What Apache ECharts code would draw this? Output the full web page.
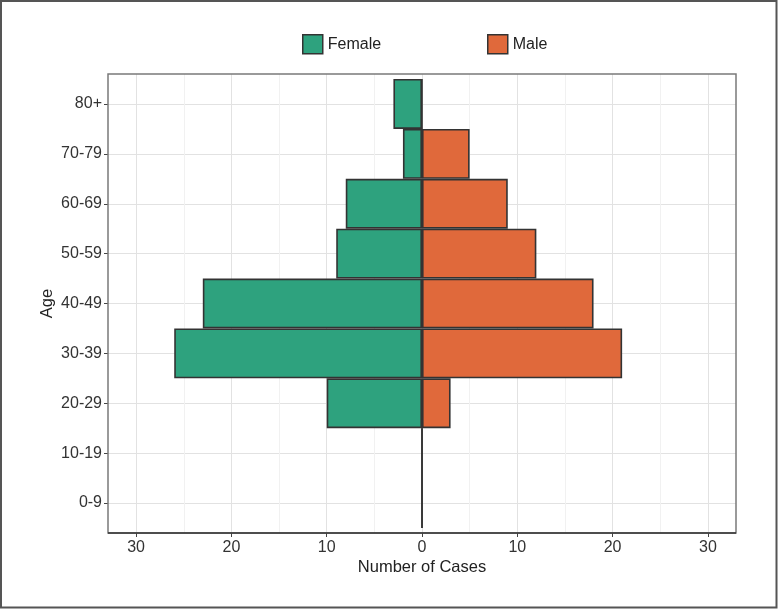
<!DOCTYPE html>
<html>
<head>
<meta charset="utf-8">
<script src="https://cdn.jsdelivr.net/npm/echarts@6/dist/echarts.min.js"></script>
<style>
html, body { margin: 0; padding: 0; background: #ffffff; }
#chart { width: 778px; height: 610px; }
</style>
</head>
<body>
<div id="chart"></div>
<script>
const ageGroups = ['0-9', '10-19', '20-29', '30-39', '40-49', '50-59', '60-69', '70-79', '80+'];
const femaleCases = [0, 0, 10, 26, 23, 9, 8, 2, 3];
const maleCases = [0, 0, 3, 21, 18, 12, 9, 5, 0];
const xTickValues = [-30, -20, -10, 0, 10, 20, 30];

const FONT = '"Liberation Sans", Arial, Helvetica, sans-serif';
const GREEN = '#2ea27e';
const ORANGE = '#e0693b';
const EDGE = '#333333';

const chart = echarts.init(document.getElementById('chart'), null, { renderer: 'canvas' });

const option = {
  animation: false,
  backgroundColor: '#ffffff',
  textStyle: { fontFamily: FONT },
  legend: [
    {
      left: 302, top: 34, padding: 0, itemWidth: 20, itemHeight: 19, icon: 'rect',
      data: ['Female'],
      itemStyle: { borderColor: EDGE, borderWidth: 1.5 },
      textStyle: { fontFamily: FONT, fontSize: 16, color: '#222' }
    },
    {
      left: 487, top: 34, padding: 0, itemWidth: 20, itemHeight: 19, icon: 'rect',
      data: ['Male'],
      itemStyle: { borderColor: EDGE, borderWidth: 1.5 },
      textStyle: { fontFamily: FONT, fontSize: 16, color: '#222' }
    }
  ],
  grid: [
    { left: 108, top: 104, width: 628, height: 399 },
    { left: 136.1, top: 74, width: 571.8, height: 459 },
    { left: 136.1, top: 79, width: 571.8, height: 449 }
  ],
  xAxis: [
    { gridIndex: 0, type: 'value', min: 0, max: 1, show: false },
    {
      gridIndex: 1, type: 'value', min: xTickValues[0], max: xTickValues[xTickValues.length - 1], interval: 10,
      axisLine: { show: false },
      axisTick: { show: true, length: 4, lineStyle: { color: '#444', width: 1 } },
      axisLabel: { formatter: v => String(Math.abs(v)), margin: 7, fontSize: 16, color: '#333', fontFamily: FONT },
      splitLine: { show: true, lineStyle: { color: '#e2e2e2', width: 1 } },
      minorTick: { show: false, splitNumber: 2 },
      minorSplitLine: { show: true, lineStyle: { color: '#f1f1f1', width: 1 } },
      name: 'Number of Cases', nameLocation: 'middle', nameGap: 26, nameMoveOverlap: false,
      nameTextStyle: { fontSize: 16.5, color: '#222', fontFamily: FONT }
    },
    { gridIndex: 2, type: 'value', min: xTickValues[0], max: xTickValues[xTickValues.length - 1], show: false }
  ],
  yAxis: [
    {
      gridIndex: 0, type: 'category', data: ageGroups, boundaryGap: false,
      axisLine: { show: false },
      axisTick: { show: true, interval: 0, length: 4, lineStyle: { color: '#444', width: 1 } },
      axisLabel: { interval: 0, margin: 6, fontSize: 16, color: '#333', fontFamily: FONT },
      splitLine: { show: true, interval: 0, lineStyle: { color: '#e2e2e2', width: 1 } },
      name: 'Age', nameLocation: 'middle', nameGap: 52, nameRotate: 90, nameMoveOverlap: false,
      nameTextStyle: { fontSize: 16.5, color: '#222', fontFamily: FONT }
    },
    { gridIndex: 1, type: 'value', show: false },
    { gridIndex: 2, type: 'category', data: ageGroups, show: false }
  ],
  series: [
    {
      name: 'Female', type: 'bar', xAxisIndex: 2, yAxisIndex: 2,
      data: femaleCases.map(v => -v),
      barCategoryGap: '0%', barGap: '-100%',
      itemStyle: { color: GREEN, borderColor: EDGE, borderWidth: 1.6 },
      z: 3
    },
    {
      name: 'Male', type: 'bar', xAxisIndex: 2, yAxisIndex: 2,
      data: maleCases,
      barCategoryGap: '0%', barGap: '-100%',
      itemStyle: { color: ORANGE, borderColor: EDGE, borderWidth: 1.6 },
      z: 3
    }
  ],
  graphic: [
    {
      type: 'rect', z: 100, silent: true,
      shape: { x: 108, y: 74, width: 628, height: 459 },
      style: { fill: 'none', stroke: '#7a7a7a', lineWidth: 1.5 }
    },
    {
      type: 'line', z: 101, silent: true,
      shape: { x1: 108, y1: 533, x2: 736, y2: 533 },
      style: { stroke: '#333', lineWidth: 1.5 }
    },
    {
      type: 'rect', z: 100, silent: true,
      shape: { x: 1, y: 1, width: 775.5, height: 606.5 },
      style: { fill: 'none', stroke: '#555', lineWidth: 2 }
    }
  ]
};

chart.setOption(option);
</script>
</body>
</html>
